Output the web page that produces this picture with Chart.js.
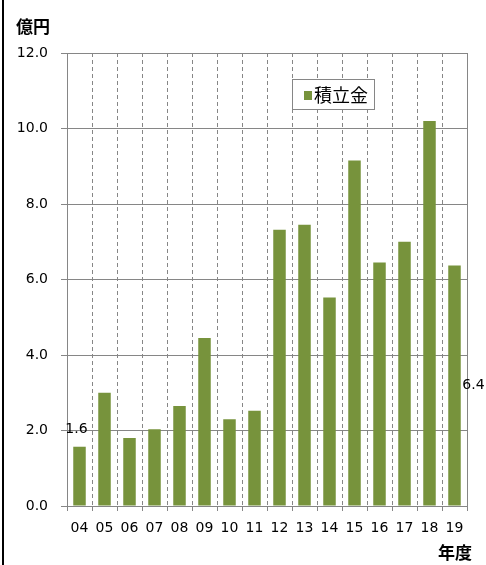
<!DOCTYPE html>
<html>
<head>
<meta charset="utf-8">
<script src="https://cdn.jsdelivr.net/npm/chart.js@4"></script>
<style>
  body { margin: 0; background: #fff; }
  canvas { display: block; }
</style>
</head>
<body>
<canvas id="fundChart" width="486" height="565"></canvas>
<script>
// 年度別 積立金 (億円)
const years = ['04', '05', '06', '07', '08', '09', '10', '11', '12', '13', '14', '15', '16', '17', '18', '19'];
const reserve = [1.57, 3.0, 1.8, 2.03, 2.65, 4.45, 2.3, 2.52, 7.32, 7.45, 5.52, 9.15, 6.45, 7.0, 10.2, 6.37];
const valueLabels = ['1.6', null, null, null, null, null, null, null, null, null, null, null, null, null, null, '6.4'];
const yTicks = [0, 2, 4, 6, 8, 10, 12];

const gridGray = '#868686';
const barGreen = '#77933c';

// extra drawing: outer left rule, unit titles, legend box, value labels
const extras = {
    id: 'extras',
    beforeDatasetsDraw(chart) {
        const { ctx, chartArea } = chart;
        ctx.save();
        ctx.strokeStyle = gridGray;
        ctx.lineWidth = 1;
        ctx.beginPath();
        ctx.moveTo(Math.round(chartArea.right) + 0.5, chartArea.top);
        ctx.lineTo(Math.round(chartArea.right) + 0.5, chartArea.bottom);
        ctx.stroke();
        ctx.restore();
    },
    afterDraw(chart) {
        const { ctx } = chart;
        ctx.save();
        // left frame line
        ctx.fillStyle = '#000';
        ctx.fillRect(2, 0, 2, chart.height);

        // axis titles
        ctx.font = 'bold 17px "Noto Sans CJK JP"';
        ctx.textBaseline = 'middle';
        ctx.textAlign = 'left';
        ctx.fillText('億円', 16, 27);
        ctx.textAlign = 'right';
        ctx.fillText('年度', 472, 553);

        // legend
        const lx = 292, ly = 79, lw = 82, lh = 30;
        ctx.fillStyle = '#fff';
        ctx.fillRect(lx, ly, lw, lh);
        ctx.strokeStyle = gridGray;
        ctx.lineWidth = 1;
        ctx.strokeRect(lx + 0.5, ly + 0.5, lw, lh);
        const ds = chart.data.datasets[0];
        ctx.fillStyle = ds.backgroundColor;
        ctx.fillRect(lx + 12, ly + 12, 8, 9);
        ctx.fillStyle = '#000';
        ctx.font = '18px "Noto Sans CJK JP"';
        ctx.textAlign = 'left';
        ctx.fillText(ds.label, lx + 22, ly + lh / 2 + 1);

        // value labels
        const meta = chart.getDatasetMeta(0);
        ctx.font = '14px "DejaVu Sans"';
        ctx.textAlign = 'center';
        valueLabels.forEach((txt, i) => {
            if (!txt) return;
            const bar = meta.data[i];
            if (i === 0) {
                ctx.fillText(txt, bar.x - 3, bar.y - 17);
            } else {
                ctx.fillText(txt, bar.x + 19, (bar.y + bar.base) / 2);
            }
        });
        ctx.restore();
    }
};

const ctx = document.getElementById('fundChart').getContext('2d');
const fundChart = new Chart(ctx, {
    type: 'bar',
    data: {
        labels: years,
        datasets: [{
            label: '積立金',
            data: reserve,
            backgroundColor: barGreen,
            borderWidth: 0,
            barPercentage: 0.5,
            categoryPercentage: 1.0
        }]
    },
    options: {
        responsive: false,
        animation: false,
        layout: {
            padding: { left: 0, right: 19, top: 53, bottom: 0 }
        },
        plugins: {
            legend: { display: false },
            tooltip: { enabled: false }
        },
        scales: {
            x: {
                grid: {
                    offset: true,
                    color: gridGray,
                    lineWidth: 1,
                    tickLength: 5,
                    tickColor: gridGray
                },
                border: { color: gridGray, width: 1, dash: [4, 3] },
                ticks: {
                    color: '#000',
                    font: { family: 'DejaVu Sans', size: 14 },
                    padding: 9,
                    maxRotation: 0,
                    autoSkip: false
                },
                afterFit(scale) { scale.height = 59; }
            },
            y: {
                min: 0,
                max: 12,
                afterBuildTicks(scale) {
                    scale.ticks = yTicks.map(v => ({ value: v }));
                },
                grid: {
                    color: gridGray,
                    lineWidth: 1,
                    tickLength: 6,
                    tickColor: gridGray
                },
                border: { color: gridGray, width: 1 },
                ticks: {
                    color: '#000',
                    font: { family: 'DejaVu Sans', size: 14 },
                    padding: 13,
                    callback: v => v.toFixed(1)
                },
                afterFit(scale) { scale.width = 67; }
            }
        }
    },
    plugins: [extras]
});
</script>
</body>
</html>
